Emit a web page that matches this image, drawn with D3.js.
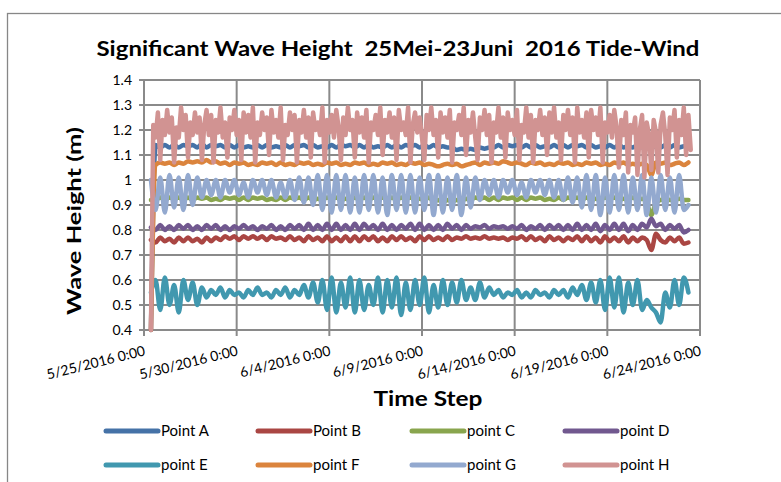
<!DOCTYPE html>
<html>
<head>
<meta charset="utf-8">
<script src="https://cdn.jsdelivr.net/npm/d3@7"></script>
<style>
body { margin: 0; background: #fff; }
svg { display: block; font-family: Lato, "Liberation Sans", sans-serif; }
</style>
</head>
<body>
<div id="mainDiv"></div>
<script>
'use strict';

var myApp = {};

// ---- data ----
var seriesNames = ["Point A", "Point B", "point C", "point D", "point E", "point F", "point G", "point H"];
var seriesColors = ["#4572A7", "#AA4643", "#89A54E", "#71588F", "#4198AF", "#DB843D", "#93A9CF", "#D19392"];
var xTickLabels = ["5/25/2016 0:00", "5/30/2016 0:00", "6/4/2016 0:00", "6/9/2016 0:00",
                   "6/14/2016 0:00", "6/19/2016 0:00", "6/24/2016 0:00"];
var yTicks = [0.4, 0.5, 0.6, 0.7, 0.8, 0.9, 1, 1.1, 1.2, 1.3, 1.4];
var firstTime = "5/25/2016 9:00";
// hours between points of each series
var seriesSteps = [6, 6, 6, 6, 6, 6, 6, 3];

var pointA = [0.40,
  1.14,1.13,1.14,1.13, 1.14,1.13,1.14,1.135, 1.14,1.13,1.145,1.13, 1.14,1.135,1.14,1.13,
  1.14,1.13,1.14,1.13, 1.135,1.13,1.14,1.13, 1.14,1.13,1.135,1.13, 1.14,1.13,1.14,1.135,
  1.14,1.13,1.14,1.13, 1.135,1.13,1.14,1.13, 1.14,1.135,1.14,1.13, 1.14,1.13,1.14,1.13,
  1.135,1.13,1.14,1.13, 1.14,1.13,1.14,1.135, 1.14,1.13,1.14,1.13, 1.14,1.13,1.135,1.13,
  1.13,1.12,1.125,1.12, 1.125,1.12,1.13,1.125, 1.13,1.13,1.14,1.13, 1.14,1.135,1.14,1.13,
  1.14,1.13,1.14,1.13, 1.135,1.13,1.14,1.13, 1.14,1.13,1.14,1.135, 1.14,1.13,1.14,1.13,
  1.135,1.13,1.14,1.13, 1.14,1.13,1.135,1.13, 1.14,1.13,1.14,1.13, 1.135,1.13,1.14,1.13,
  1.14,1.13,1.135,1.13];

var pointB = [0.76,
  0.75,0.77,0.755,0.765, 0.75,0.77,0.755,0.77, 0.755,0.765,0.75,0.77, 0.755,0.77,0.76,0.775,
  0.765,0.775,0.76,0.775, 0.765,0.775,0.765,0.775, 0.76,0.775,0.765,0.77, 0.76,0.775,0.76,0.77,
  0.755,0.775,0.76,0.77, 0.755,0.775,0.755,0.77, 0.755,0.775,0.755,0.775, 0.755,0.775,0.76,0.775,
  0.755,0.77,0.755,0.775, 0.76,0.775,0.76,0.77, 0.755,0.775,0.76,0.775, 0.76,0.77,0.76,0.775,
  0.76,0.77,0.765,0.775, 0.765,0.77,0.765,0.775, 0.765,0.77,0.765,0.77, 0.76,0.77,0.765,0.775,
  0.76,0.775,0.76,0.77, 0.755,0.775,0.76,0.77, 0.755,0.77,0.76,0.775, 0.755,0.775,0.755,0.77,
  0.75,0.775,0.755,0.77, 0.755,0.775,0.75,0.77, 0.755,0.77,0.76,0.72, 0.785,0.76,0.75,0.77,
  0.755,0.77,0.745,0.75];

var pointC = [0.92,
  0.92,0.93,0.92,0.93, 0.925,0.93,0.92,0.93, 0.92,0.93,0.925,0.93, 0.92,0.925,0.92,0.93,
  0.925,0.93,0.92,0.93, 0.92,0.93,0.925,0.93, 0.92,0.925,0.92,0.93, 0.92,0.93,0.925,0.93,
  0.92,0.93,0.92,0.925, 0.92,0.93,0.925,0.93, 0.92,0.925,0.92,0.93, 0.92,0.93,0.92,0.93,
  0.925,0.93,0.92,0.93, 0.92,0.93,0.925,0.93, 0.92,0.925,0.92,0.93, 0.915,0.92,0.91,0.92,
  0.915,0.92,0.915,0.925, 0.92,0.93,0.925,0.93, 0.92,0.93,0.92,0.93, 0.925,0.93,0.92,0.93,
  0.92,0.93,0.925,0.93, 0.92,0.925,0.92,0.93, 0.92,0.93,0.925,0.93, 0.92,0.93,0.92,0.925,
  0.92,0.93,0.925,0.93, 0.92,0.925,0.92,0.93, 0.92,0.925,0.91,0.86, 0.91,0.92,0.925,0.92,
  0.92,0.925,0.92,0.92];

var pointD = [0.81,
  0.80,0.82,0.80,0.815, 0.80,0.82,0.805,0.82, 0.80,0.815,0.80,0.82, 0.805,0.82,0.80,0.815,
  0.80,0.815,0.805,0.82, 0.805,0.815,0.80,0.815, 0.805,0.82,0.80,0.815, 0.80,0.82,0.805,0.82,
  0.80,0.825,0.80,0.82, 0.80,0.825,0.80,0.825, 0.80,0.82,0.80,0.825, 0.80,0.825,0.805,0.82,
  0.80,0.825,0.80,0.82, 0.80,0.82,0.805,0.825, 0.80,0.825,0.80,0.82, 0.80,0.82,0.80,0.825,
  0.805,0.82,0.80,0.82, 0.805,0.815,0.81,0.82, 0.805,0.815,0.81,0.815, 0.805,0.815,0.805,0.82,
  0.80,0.815,0.805,0.82, 0.80,0.82,0.805,0.82, 0.80,0.82,0.80,0.825, 0.80,0.82,0.80,0.825,
  0.795,0.82,0.80,0.825, 0.80,0.825,0.795,0.82, 0.80,0.825,0.81,0.845, 0.815,0.825,0.80,0.82,
  0.805,0.82,0.79,0.80];

var pointE = [0.55,
  0.60,0.48,0.61,0.50, 0.58,0.47,0.60,0.52, 0.59,0.50,0.57,0.53, 0.56,0.54,0.57,0.53,
  0.56,0.54,0.55,0.53, 0.56,0.54,0.57,0.54, 0.55,0.53,0.56,0.54, 0.57,0.53,0.56,0.54,
  0.58,0.53,0.59,0.51, 0.60,0.48,0.61,0.47, 0.59,0.49,0.61,0.47, 0.60,0.48,0.58,0.50,
  0.61,0.47,0.60,0.49, 0.61,0.46,0.59,0.48, 0.60,0.50,0.61,0.47, 0.58,0.49,0.60,0.50,
  0.59,0.51,0.60,0.52, 0.57,0.52,0.59,0.53, 0.57,0.54,0.56,0.53, 0.55,0.54,0.56,0.53,
  0.55,0.53,0.56,0.54, 0.55,0.53,0.56,0.54, 0.56,0.53,0.57,0.54, 0.58,0.52,0.59,0.51,
  0.60,0.48,0.61,0.49, 0.61,0.47,0.59,0.50, 0.60,0.48,0.52,0.49, 0.47,0.43,0.55,0.49,
  0.60,0.50,0.61,0.55];

var pointF = [0.40,
  1.06,1.07,1.065,1.07, 1.06,1.07,1.065,1.075, 1.07,1.075,1.07,1.08, 1.07,1.075,1.065,1.07,
  1.06,1.07,1.065,1.07, 1.06,1.065,1.06,1.07, 1.065,1.07,1.06,1.07, 1.06,1.065,1.06,1.07,
  1.065,1.07,1.06,1.065, 1.06,1.07,1.065,1.07, 1.06,1.065,1.06,1.07, 1.065,1.07,1.06,1.065,
  1.06,1.07,1.065,1.07, 1.06,1.065,1.06,1.07, 1.065,1.07,1.06,1.065, 1.06,1.055,1.06,1.065,
  1.06,1.065,1.055,1.06, 1.065,1.07,1.06,1.07, 1.065,1.07,1.065,1.075, 1.07,1.065,1.07,1.065,
  1.06,1.07,1.065,1.07, 1.06,1.065,1.06,1.07, 1.065,1.07,1.06,1.065, 1.06,1.07,1.065,1.07,
  1.06,1.065,1.06,1.07, 1.065,1.07,1.06,1.065, 1.06,1.065,1.06,1.02, 1.07,1.065,1.07,1.06,
  1.065,1.07,1.06,1.07];

var pointG = [1.00,
  0.88,1.01,0.87,1.02, 0.89,1.01,0.88,1.02, 0.90,1.01,0.93,1.00, 0.94,1.00,0.93,1.00,
  0.95,1.00,0.94,0.99, 0.93,1.00,0.95,1.00, 0.94,1.00,0.93,0.99, 0.93,1.00,0.92,1.01,
  0.91,1.01,0.90,1.02, 0.88,1.02,0.87,1.02, 0.88,1.02,0.87,1.01, 0.87,1.02,0.88,1.02,
  0.87,1.01,0.86,1.02, 0.88,1.02,0.87,1.02, 0.87,1.01,0.88,1.02, 0.86,1.02,0.87,1.01,
  0.88,1.02,0.86,1.01, 0.89,1.01,0.92,1.00, 0.94,1.00,0.93,1.00, 0.95,1.00,0.94,0.99,
  0.93,1.00,0.95,1.00, 0.94,1.00,0.93,1.00, 0.92,1.01,0.91,1.01, 0.89,1.02,0.88,1.02,
  0.86,1.01,0.87,1.02, 0.88,1.02,0.87,1.01, 0.88,1.02,0.86,1.01, 0.87,1.02,0.88,1.01,
  0.87,1.02,0.88,0.90];

var pointH = [0.40,
  1.22,1.17,1.27,1.08,1.24,1.18,1.28,1.19,
  1.25,1.07,1.21,1.17,1.29,1.20,1.26,1.09,
  1.23,1.18,1.27,1.19,1.25,1.08,1.22,1.28,
  1.18,1.26,1.07,1.24,1.19,1.29,1.17,1.23,
  1.09,1.25,1.20,1.28,1.18,1.24,1.08,1.27,
  1.19,1.26,1.17,1.29,1.07,1.23,1.18,1.27,
  1.20,1.25,1.10,1.28,1.19,1.24,1.17,1.29,
  1.08,1.22,1.18,1.27,1.20,1.26,1.07,1.24,
  1.19,1.28,1.17,1.25,1.09,1.27,1.20,1.23,
  1.18,1.29,1.07,1.24,1.19,1.26,1.17,1.28,
  1.21,1.08,1.25,1.18,1.29,1.20,1.24,1.09,
  1.27,1.19,1.25,1.17,1.28,1.07,1.23,1.20,
  1.26,1.18,1.29,1.10,1.24,1.19,1.27,1.17,
  1.25,1.08,1.28,1.20,1.23,1.18,1.29,1.07,
  1.22,1.27,1.19,1.25,1.17,1.08,1.26,1.20,
  1.29,1.18,1.24,1.09,1.27,1.19,1.25,1.17,
  1.28,1.07,1.23,1.20,1.26,1.18,1.29,1.10,
  1.24,1.19,1.27,1.17,1.08,1.25,1.20,1.28,
  1.18,1.26,1.07,1.23,1.19,1.29,1.17,1.25,
  1.09,1.27,1.20,1.24,1.18,1.28,1.08,1.22,
  1.19,1.29,1.17,1.26,1.07,1.24,1.20,1.28,
  1.18,1.25,1.10,1.27,1.19,1.29,1.17,1.23,
  1.08,1.26,1.20,1.28,1.18,1.25,1.07,1.29,
  1.19,1.24,1.17,1.27,1.09,1.28,1.20,1.25,
  1.18,1.29,1.07,1.23,1.19,1.26,1.17,1.28,
  1.21,1.05,1.24,1.18,1.27,1.03,1.22,1.19,
  1.25,1.02,1.20,1.26,1.01,1.23,1.18,1.04,
  1.24,1.19,1.03,1.22,1.27,1.18,1.02,1.25,
  1.20,1.28,1.09,1.24,1.18,1.29,1.10,1.26,
  1.12];

var seriesValues = [pointA, pointB, pointC, pointD, pointE, pointF, pointG, pointH];

var parseTime = d3.timeParse("%m/%d/%Y %H:%M");

myApp.run = function ()
{
    var W = 781, H = 482;
    var plot = { left: 144, right: 700, top: 80, bottom: 330 };
    var gridColor = "#8a8a8a";

    var svg = d3.select("#mainDiv").append("svg")
        .attr("width", W)
        .attr("height", H);

    // chart area border (runs off the right and bottom)
    svg.append("rect")
        .attr("x", 7.5).attr("y", 13.5)
        .attr("width", 820).attr("height", 520)
        .attr("fill", "#fff")
        .attr("stroke", "#878787")
        .attr("stroke-width", 1.3);

    var tickDates = xTickLabels.map(parseTime);
    var x = d3.scaleTime()
        .domain([tickDates[0], tickDates[tickDates.length - 1]])
        .range([plot.left, plot.right]);
    var y = d3.scaleLinear()
        .domain([0.4, 1.4])
        .range([plot.bottom, plot.top]);

    // horizontal grid + y ticks
    svg.append("g").selectAll("line")
        .data(yTicks)
        .enter().append("line")
            .attr("x1", plot.left - 5)
            .attr("x2", plot.right)
            .attr("y1", function (d) { return y(d); })
            .attr("y2", function (d) { return y(d); })
            .attr("stroke", gridColor)
            .attr("stroke-width", 2);

    // vertical grid + x ticks
    svg.append("g").selectAll("line")
        .data(tickDates)
        .enter().append("line")
            .attr("x1", function (d) { return x(d); })
            .attr("x2", function (d) { return x(d); })
            .attr("y1", plot.top)
            .attr("y2", plot.bottom + 6)
            .attr("stroke", gridColor)
            .attr("stroke-width", 2);

    // series lines (the 6-hourly ones are smoothed a little, the spiky H is not)
    var start = parseTime(firstTime);

    seriesValues.forEach(function (vals, k) {
        var pts = vals.map(function (v, i) {
            return { t: d3.timeHour.offset(start, i * seriesSteps[k]), v: v };
        });
        var line = d3.line()
            .x(function (d) { return x(d.t); })
            .y(function (d) { return y(d.v); })
            .curve(seriesSteps[k] === 6 ? d3.curveMonotoneX : d3.curveLinear);
        svg.append("path")
            .datum(pts)
            .attr("d", line)
            .attr("fill", "none")
            .attr("stroke", seriesColors[k])
            .attr("stroke-width", 4.5)
            .attr("stroke-linejoin", "round")
            .attr("stroke-linecap", "round");
    });

    // y tick labels
    svg.append("g").selectAll("text")
        .data(yTicks)
        .enter().append("text")
            .text(function (d) { return d; })
            .attr("x", plot.left - 12)
            .attr("y", function (d) { return y(d); })
            .attr("dy", "0.35em")
            .attr("text-anchor", "end")
            .attr("font-size", "14px")
            .attr("fill", "#000");

    // x tick labels, rotated
    svg.append("g").selectAll("text")
        .data(tickDates)
        .enter().append("text")
            .text(function (d, i) { return xTickLabels[i]; })
            .attr("text-anchor", "end")
            .attr("transform", function (d) {
                return "translate(" + (x(d) + 2) + ",355) rotate(-14)";
            })
            .attr("font-size", "14px")
            .attr("fill", "#000");

    // titles
    svg.append("text")
        .text("Significant Wave Height  25Mei-23Juni  2016 Tide-Wind")
        .attr("x", 398).attr("y", 56)
        .attr("text-anchor", "middle")
        .style("white-space", "pre")
        .attr("textLength", 603)
        .attr("lengthAdjust", "spacingAndGlyphs")
        .attr("font-size", "20px")
        .attr("font-weight", "bold");

    svg.append("text")
        .text("Time Step")
        .attr("x", 428).attr("y", 406)
        .attr("text-anchor", "middle")
        .attr("textLength", 109)
        .attr("lengthAdjust", "spacingAndGlyphs")
        .attr("font-size", "21px")
        .attr("font-weight", "bold");

    svg.append("text")
        .text("Wave Height (m)")
        .attr("transform", "translate(81,221) rotate(-90)")
        .attr("text-anchor", "middle")
        .attr("textLength", 188)
        .attr("lengthAdjust", "spacingAndGlyphs")
        .attr("font-size", "19px")
        .attr("font-weight", "bold");

    // legend
    var legX = [106, 258, 412, 565];
    var legY = [431, 465];
    var leg = svg.append("g").selectAll("g")
        .data(seriesNames)
        .enter().append("g")
            .attr("transform", function (d, i) {
                return "translate(" + legX[i % 4] + "," + legY[Math.floor(i / 4)] + ")";
            });
    leg.append("line")
        .attr("x1", 0).attr("x2", 52)
        .attr("y1", 0).attr("y2", 0)
        .attr("stroke", function (d, i) { return seriesColors[i]; })
        .attr("stroke-width", 5)
        .attr("stroke-linecap", "round");
    leg.append("text")
        .text(function (d) { return d; })
        .attr("x", 55).attr("y", 0)
        .attr("dy", "0.35em")
        .attr("font-size", "15px")
        .attr("fill", "#000");
};

window.onload = myApp.run;
</script>
</body>
</html>
